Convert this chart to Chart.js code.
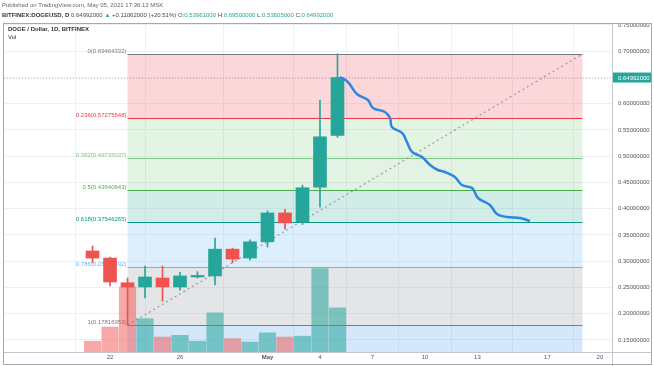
<!DOCTYPE html>
<html>
<head>
<meta charset="utf-8">
<script src="https://cdn.jsdelivr.net/npm/chart.js@4.4.1/dist/chart.umd.min.js"></script>
<style>
html, body { margin: 0; padding: 0; background: #fff; }
#wrap { position: relative; width: 654px; height: 366px; overflow: hidden; font-family: "Liberation Sans", Arial, sans-serif; }
#chart { position: absolute; left: 0; top: 0; }
.t { position: absolute; white-space: nowrap; color: #4a4a4a; font-size: 6px; }
#pub { left: 2px; top: 2px; color: #666; }
#sym { left: 2px; top: 12px; }
#sym b { color: #333; }
#sym .v { color: #26a69a; }
#title { left: 8px; top: 26px; font-weight: bold; color: #333; }
#vol { left: 8px; top: 34px; color: #333; }
#box { position: absolute; left: 3px; top: 23px; width: 649px; height: 342px; border: 1px solid #a5a8ae; box-sizing: border-box; pointer-events: none; }
</style>
</head>
<body>
<div id="wrap">
  <canvas id="chart" width="654" height="366"></canvas>
  <div id="box"></div>
  <div class="t" id="pub">Published on TradingView.com, May 05, 2021 17:36:13 MSK</div>
  <div class="t" id="sym"><b>BITFINEX:DOGEUSD, D</b> 0.64992000 <span class="v">▲</span> +0.11062000 (+20.51%) O:<span class="v">0.53961000</span> H:<span class="v">0.69500000</span> L:<span class="v">0.53605000</span> C:<span class="v">0.64992000</span></div>
  <div class="t" id="title">DOGE / Dollar, 1D, BITFINEX</div>
  <div class="t" id="vol">Vol</div>
</div>
<script>
// DAYS (April numbering, May 1 = 31)
const days = [21, 22, 23, 24, 25, 26, 27, 28, 29, 30, 31, 32, 33, 34, 35];
const open = [0.3195, 0.3060, 0.2590, 0.2510, 0.2680, 0.2510, 0.2700, 0.2720, 0.3230, 0.3060, 0.3370, 0.3920, 0.3750, 0.4410, 0.53961];
const high = [0.3290, 0.3080, 0.2680, 0.2910, 0.2910, 0.2790, 0.2800, 0.3440, 0.3250, 0.3410, 0.3960, 0.3990, 0.4450, 0.6070, 0.69500];
const low = [0.2970, 0.2530, 0.17817, 0.2300, 0.2240, 0.2450, 0.2680, 0.2550, 0.2970, 0.3020, 0.3270, 0.3610, 0.3700, 0.4030, 0.53605];
const close = [0.3060, 0.2605, 0.2510, 0.2700, 0.2510, 0.2720, 0.2730, 0.3230, 0.3040, 0.3370, 0.3920, 0.3730, 0.4400, 0.5370, 0.64992];
const volume = [130, 300, 780, 400, 180, 200, 130, 470, 160, 120, 230, 180, 190, 1000, 530];

// X TICKS
const xTicks = [22, 26, 31, 34, 37, 40, 43, 47, 50];
const xTickLabels = ['22', '26', 'May', '4', '7', '10', '13', '17', '20'];

// FIB RETRACEMENT
const fibRatios = ['0', '0.236', '0.382', '0.5', '0.618', '0.786', '1'];
const fibPrices = [0.69464332, 0.57275548, 0.49735037, 0.43640643, 0.37546265, 0.28869492, 0.17816953];
const fibStart = 23;
const fibEnd = 49;

// DRAWN FORECAST PATH
const forecastDays = [35.14, 35.6, 36.11, 36.74, 37.03, 37.71, 38.0, 38.11, 38.69, 38.97, 39.26, 39.83, 40.29, 40.74, 41.14, 41.71, 42.11, 42.69, 43.03, 43.71, 44.11, 44.69, 45.43, 46.0];
const forecastPrices = [0.651, 0.6414, 0.6186, 0.6071, 0.5919, 0.5843, 0.5729, 0.5557, 0.5443, 0.5271, 0.5081, 0.4986, 0.4833, 0.4738, 0.47, 0.4605, 0.4452, 0.4395, 0.4205, 0.4071, 0.39, 0.3843, 0.3824, 0.3767];

const lastPrice = 0.64992;

const UP = '#26a69a';
const DOWN = '#ef5350';
const candleColors = days.map((d, i) => close[i] >= open[i] ? UP : DOWN);
const volColors = days.map((d, i) => close[i] >= open[i] ? 'rgba(38,166,154,0.55)' : 'rgba(239,83,80,0.5)');

const fibLineColors = ['#787b86', '#f23645', '#81c784', '#4caf50', '#089981', '#64b5f6', '#787b86'];
const fibFillColors = ['rgba(242,54,69,0.2)', 'rgba(129,199,132,0.22)', 'rgba(76,175,80,0.16)', 'rgba(8,153,129,0.18)', 'rgba(100,181,246,0.22)', 'rgba(120,123,134,0.2)', 'rgba(100,170,240,0.28)'];

const fibPlugin = {
    id: 'fib',
    beforeDatasetsDraw(chart) {
        const { ctx, chartArea, scales } = chart;
        const x = scales.x, y = scales.y;
        const x0 = x.getPixelForValue(fibStart), x1 = x.getPixelForValue(fibEnd);
        ctx.save();
        ctx.beginPath();
        ctx.rect(chartArea.left, chartArea.top, chartArea.right - chartArea.left, chartArea.bottom - chartArea.top);
        ctx.clip();
        // fills
        for (let i = 0; i < fibPrices.length; i++) {
            const top = y.getPixelForValue(fibPrices[i]);
            const bot = i + 1 < fibPrices.length ? y.getPixelForValue(fibPrices[i + 1]) : chartArea.bottom;
            ctx.fillStyle = fibFillColors[i];
            ctx.fillRect(x0, top, x1 - x0, bot - top);
        }
        // lines + labels
        ctx.font = '6px "Liberation Sans", Arial, sans-serif';
        ctx.textAlign = 'right';
        ctx.textBaseline = 'middle';
        for (let i = 0; i < fibPrices.length; i++) {
            const py = Math.round(y.getPixelForValue(fibPrices[i])) + 0.5;
            ctx.strokeStyle = fibLineColors[i];
            ctx.lineWidth = 1;
            ctx.beginPath();
            ctx.moveTo(x0, py);
            ctx.lineTo(x1, py);
            ctx.stroke();
            ctx.fillStyle = fibLineColors[i];
            ctx.fillText(fibRatios[i] + '(' + fibPrices[i].toFixed(8) + ')', x0 - 1, py - 3.5);
        }
        // last price line
        const lp = Math.round(y.getPixelForValue(lastPrice)) + 0.5;
        ctx.strokeStyle = 'rgba(120,123,134,0.45)';
        ctx.setLineDash([1, 2]);
        ctx.beginPath();
        ctx.moveTo(chartArea.left, lp);
        ctx.lineTo(chartArea.right, lp);
        ctx.stroke();
        ctx.restore();
    },
    afterDraw(chart) {
        const { ctx, chartArea, scales } = chart;
        ctx.save();
        ctx.strokeStyle = '#c3c6cc';
        ctx.lineWidth = 1;
        ctx.beginPath();
        ctx.moveTo(Math.round(chartArea.right) + 0.5, chartArea.top);
        ctx.lineTo(Math.round(chartArea.right) + 0.5, 366);
        ctx.moveTo(3, Math.round(chartArea.bottom) + 0.5);
        ctx.lineTo(651, Math.round(chartArea.bottom) + 0.5);
        ctx.stroke();
        // last price tag
        const lp = scales.y.getPixelForValue(lastPrice);
        ctx.fillStyle = UP;
        ctx.fillRect(chartArea.right + 1, lp - 5, 38, 10);
        ctx.fillStyle = '#fff';
        ctx.font = '6px "Liberation Sans", Arial, sans-serif';
        ctx.textAlign = 'left';
        ctx.textBaseline = 'middle';
        ctx.fillText(lastPrice.toFixed(8), chartArea.right + 6, lp + 0.5);
        ctx.restore();
    }
};

const cvs = document.getElementById('chart');

let dogeChart = new Chart(cvs, {
    type: 'bar',
    data: {
        datasets: [
            {
                type: 'line',
                data: forecastDays.map((d, i) => ({ x: d, y: forecastPrices[i] })),
                borderColor: '#2d87e0',
                borderWidth: 2.5,
                tension: 0.4,
                pointRadius: 0,
                order: 0
            },
            {
                type: 'line',
                data: [{ x: fibStart, y: fibPrices[6] }, { x: fibEnd, y: fibPrices[0] }],
                borderColor: 'rgba(120,123,134,0.7)',
                borderWidth: 1.2,
                borderDash: [2, 3],
                pointRadius: 0,
                order: 3
            },
            {
                data: days.map((d, i) => ({ x: d, y: [open[i], close[i]] })),
                backgroundColor: candleColors,
                barThickness: 13,
                grouped: false,
                order: 1
            },
            {
                data: days.map((d, i) => ({ x: d, y: [low[i], high[i]] })),
                backgroundColor: candleColors,
                barThickness: 1,
                grouped: false,
                order: 2
            },
            {
                data: days.map((d, i) => ({ x: d, y: volume[i] })),
                backgroundColor: volColors,
                barThickness: 16.5,
                grouped: false,
                yAxisID: 'yVol',
                order: 4
            }
        ]
    },
    options: {
        responsive: false,
        animation: false,
        layout: { padding: { left: 4, top: 24, right: 3, bottom: 1 } },
        scales: {
            x: {
                type: 'linear',
                min: 15.94,
                max: 50.69,
                offset: false,
                afterBuildTicks: (scale) => { scale.ticks = xTicks.map(v => ({ value: v })); },
                afterFit: (scale) => { scale.height = 13; scale.paddingLeft = 0; scale.paddingRight = 0; },
                ticks: {
                    autoSkip: false,
                    maxRotation: 0,
                    padding: 2,
                    color: '#555',
                    font: (c) => ({ size: 6, family: '"Liberation Sans", Arial, sans-serif', weight: c.tick && c.tick.value === 31 ? 'bold' : 'normal' }),
                    callback: (v, i) => xTickLabels[i]
                },
                grid: { color: '#eef0f4', drawTicks: false },
                border: { display: false }
            },
            y: {
                position: 'right',
                min: 0.1271,
                max: 0.7519,
                afterFit: (scale) => { scale.width = 39; scale.paddingTop = 0; scale.paddingBottom = 0; },
                ticks: {
                    stepSize: 0.05,
                    includeBounds: false,
                    padding: 6,
                    color: '#555',
                    font: { size: 6, family: '"Liberation Sans", Arial, sans-serif' },
                    callback: (v) => v.toFixed(8)
                },
                grid: { color: '#eef0f4', drawTicks: false },
                border: { display: false }
            },
            yVol: {
                display: false,
                min: 0,
                max: 3936
            }
        },
        plugins: {
            legend: { display: false },
            tooltip: { enabled: false }
        }
    },
    plugins: [fibPlugin]
});
</script>
</body>
</html>
